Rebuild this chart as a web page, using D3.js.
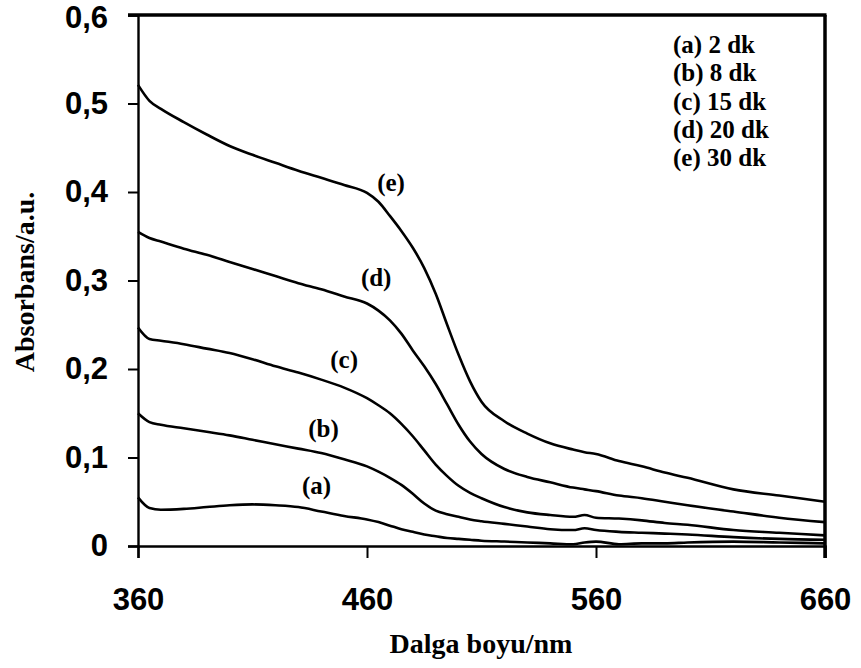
<!DOCTYPE html>
<html>
<head>
<meta charset="utf-8">
<script src="https://cdn.jsdelivr.net/npm/d3@7"></script>
<style>
  body { margin: 0; background: #fff; }
  .tick-num { font-family: "Liberation Sans", Arial, sans-serif; font-weight: bold; font-size: 31px; }
  .serif { font-family: "Liberation Serif", "Times New Roman", serif; font-weight: bold; }
</style>
</head>
<body>
<div class="chart"></div>
<script>
// Wavelength grid (nm) shared by all five spectra
const wavelength = [360, 365, 370, 380, 390, 400, 410, 420, 430, 440, 450, 460, 465, 470, 475, 480, 485, 490, 495, 500, 505, 510, 520, 530, 540, 550, 555, 560, 570, 580, 590, 600, 620, 640, 660];

// Absorbance values
const absA = [0.055, 0.043, 0.041, 0.042, 0.044, 0.046, 0.047, 0.046, 0.044, 0.039, 0.034, 0.030, 0.027, 0.023, 0.019, 0.016, 0.013, 0.011, 0.009, 0.008, 0.007, 0.006, 0.005, 0.004, 0.003, 0.002, 0.004, 0.005, 0.002, 0.003, 0.003, 0.004, 0.005, 0.004, 0.003];
const absB = [0.150, 0.140, 0.137, 0.133, 0.129, 0.125, 0.120, 0.115, 0.110, 0.105, 0.098, 0.090, 0.084, 0.077, 0.069, 0.059, 0.048, 0.040, 0.036, 0.033, 0.030, 0.028, 0.025, 0.022, 0.019, 0.018, 0.020, 0.018, 0.016, 0.015, 0.014, 0.013, 0.010, 0.008, 0.007];
const absC = [0.247, 0.234, 0.232, 0.228, 0.223, 0.218, 0.211, 0.203, 0.196, 0.188, 0.179, 0.167, 0.159, 0.150, 0.138, 0.124, 0.108, 0.092, 0.079, 0.068, 0.060, 0.054, 0.044, 0.038, 0.035, 0.033, 0.035, 0.032, 0.031, 0.029, 0.026, 0.024, 0.018, 0.015, 0.012];
const absD = [0.355, 0.348, 0.344, 0.336, 0.329, 0.321, 0.313, 0.305, 0.297, 0.290, 0.282, 0.274, 0.266, 0.255, 0.240, 0.221, 0.203, 0.183, 0.160, 0.137, 0.118, 0.104, 0.087, 0.078, 0.072, 0.066, 0.064, 0.062, 0.057, 0.054, 0.050, 0.046, 0.039, 0.032, 0.027];
const absE = [0.521, 0.503, 0.494, 0.479, 0.465, 0.452, 0.442, 0.433, 0.424, 0.416, 0.408, 0.399, 0.389, 0.373, 0.356, 0.337, 0.314, 0.285, 0.250, 0.216, 0.186, 0.163, 0.141, 0.127, 0.116, 0.109, 0.106, 0.104, 0.096, 0.090, 0.083, 0.077, 0.064, 0.057, 0.050];

const seriesKeys = ["(a)", "(b)", "(c)", "(d)", "(e)"];
const legendLabels = ["(a) 2 dk", "(b) 8 dk", "(c) 15 dk", "(d) 20 dk", "(e) 30 dk"];
const xTicks = [360, 460, 560, 660];
const yTicks = [0, 0.1, 0.2, 0.3, 0.4, 0.5, 0.6];

// where the (a)..(e) tags sit, in data units
const tagNm = [438, 441, 450, 464, 470.5];
const tagAbs = [0.068, 0.133, 0.210, 0.303, 0.411];

const width = 861;
const height = 668;

let svg = d3.select("div.chart")
    .append("svg")
    .attr("width", width)
    .attr("height", height)
    .style("background", "#fff");

let x = d3.scaleLinear().domain([360, 660]).range([138, 825]);
let y = d3.scaleLinear().domain([0, 0.6]).range([546, 15]);

let allSeries = [absA, absB, absC, absD, absE];

let line = d3.line()
    .x((d, i) => x(wavelength[i]))
    .y(d => y(d))
    .curve(d3.curveMonotoneX);

svg.append("g")
    .selectAll("path")
    .data(allSeries)
    .enter()
    .append("path")
    .attr("d", line)
    .attr("fill", "none")
    .attr("stroke", "#000")
    .attr("stroke-width", 2.6)
    .attr("stroke-linejoin", "round");

// y axis
let yAxis = svg.append("g")
    .attr("transform", `translate(${x(360)},0)`)
    .call(d3.axisLeft(y).tickValues(yTicks).tickSize(10).tickPadding(20)
        .tickFormat(d => d === 0 ? "0" : d3.format(".1f")(d).replace(".", ",")));
yAxis.select(".domain").attr("stroke-width", 2.4);
yAxis.selectAll(".tick line").attr("stroke-width", 2);
yAxis.selectAll(".tick text").attr("class", "tick-num").attr("fill", "#000");
// keep the top label inside the window
yAxis.selectAll(".tick text").filter(d => d === 0.6).attr("dy", "0.40em");

// x axis
let xAxis = svg.append("g")
    .attr("transform", `translate(0,${y(0)})`)
    .call(d3.axisBottom(x).tickValues(xTicks).tickSize(12).tickPadding(30));
xAxis.select(".domain").attr("stroke-width", 2.4);
xAxis.selectAll(".tick line").attr("stroke-width", 2);
xAxis.selectAll(".tick text").attr("class", "tick-num").attr("fill", "#000");

// frame: top and right
svg.append("line")
    .attr("x1", x(360) - 10).attr("x2", x(660) + 1.5)
    .attr("y1", y(0.6)).attr("y2", y(0.6))
    .attr("stroke", "#000").attr("stroke-width", 3.5);
svg.append("line")
    .attr("x1", x(660)).attr("x2", x(660))
    .attr("y1", y(0.6)).attr("y2", y(0) + 12)
    .attr("stroke", "#000").attr("stroke-width", 3.5);

// curve tags
svg.append("g")
    .selectAll("text")
    .data(seriesKeys)
    .enter()
    .append("text")
    .attr("class", "serif")
    .attr("x", (d, i) => x(tagNm[i]))
    .attr("y", (d, i) => y(tagAbs[i]))
    .attr("text-anchor", "middle")
    .attr("dy", "0.33em")
    .style("font-size", "25px")
    .text(d => d);

// legend
svg.append("g")
    .selectAll("text")
    .data(legendLabels)
    .enter()
    .append("text")
    .attr("class", "serif")
    .attr("x", 673)
    .attr("y", (d, i) => 53 + i * 28.3)
    .style("font-size", "25px")
    .text(d => d);

// axis titles
svg.append("text")
    .attr("class", "serif")
    .attr("x", 481)
    .attr("y", 653)
    .attr("text-anchor", "middle")
    .style("font-size", "28px")
    .text("Dalga boyu/nm");

svg.append("text")
    .attr("class", "serif")
    .attr("transform", "translate(34,282) rotate(-90)")
    .attr("text-anchor", "middle")
    .style("font-size", "28px")
    .text("Absorbans/a.u.");
</script>
</body>
</html>
